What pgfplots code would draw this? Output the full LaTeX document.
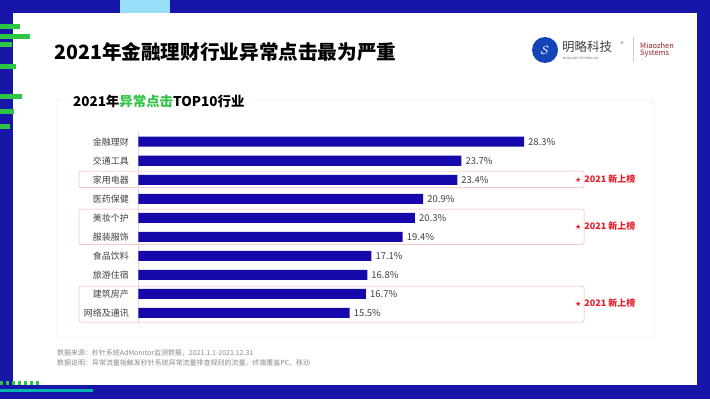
\documentclass[border=0pt]{standalone}
\usepackage{pgfplots}
\pgfplotsset{compat=1.18}
\usepackage{fontspec}
\setmainfont{Noto Sans CJK SC}
\newfontfamily\symfont{DejaVu Sans}
\definecolor{barblue}{RGB}{22,8,170}
\definecolor{frameblue}{RGB}{24,22,168}
\definecolor{grn}{RGB}{46,196,70}
\definecolor{newred}{RGB}{226,28,40}
\definecolor{txt}{RGB}{64,64,64}
\definecolor{mzred}{RGB}{150,30,40}
\begin{document}
\begin{tikzpicture}[x=1bp,y=1bp]
\useasboundingbox (0,0) rectangle (710,399);
\fill[frameblue] (0,0) rectangle (710,399);
\fill[white] (13,14) rectangle (697,386);
% decorations
\foreach \yy/\ww in {370/20,360/30,352/12,330/16,300/22,285/14,270/10}{\fill[grn] (0,\yy) rectangle (\ww,\yy+5);}
\foreach \xx in {0,6,...,40}{\fill[grn] (\xx,14) rectangle (\xx+3,18);}
\fill[teal!60!cyan] (0,7) rectangle (93,10);
\fill[cyan!40] (120,386) rectangle (170,399);
% title
\node[anchor=west, inner sep=0, font=\bfseries\fontsize{19.7}{22}\selectfont] at (54,347) {2021年金融理财行业异常点击最为严重};
% logo
\fill[frameblue!80!cyan] (545,349) circle (13);
\node[white, font=\bfseries\fontsize{13}{13}\selectfont] at (545,349) {$\mathcal{S}$};
\node[anchor=west, inner sep=0, text=black!75, font=\fontsize{12.5}{13}\selectfont] at (562,352) {明略科技};
\node[anchor=west, inner sep=0, text=black!60, font=\fontsize{3}{3}\selectfont] at (563,341) {MINGLAMP TECHNOLOGY};
\node[anchor=west, inner sep=0, text=black!60, font=\symfont\fontsize{4}{4}\selectfont] at (620,356) {®};
\draw[black!20] (633,337) -- (633,362);
\node[anchor=west, inner sep=0, text=mzred, font=\fontsize{7.5}{7}\selectfont, align=left] at (640,349) {Miaozhen\\Systems};
% panel
\draw[black!12, rounded corners=3] (57,62) rectangle (654,299);
\node[anchor=west, fill=white, inner xsep=5, font=\bfseries\fontsize{13.5}{14}\selectfont] at (68,298) {2021年\textcolor{grn}{异常点击}TOP10行业};
% new-entry boxes
\draw[newred!35, rounded corners=2, line width=0.5] (79,211.5) rectangle (584,228);
\draw[newred!35, rounded corners=2, line width=0.5] (79,154.5) rectangle (584,190);
\draw[newred!35, rounded corners=2, line width=0.5] (79,77) rectangle (584,113);
\foreach \yy in {219.5,172.5,95.5}{
  \node[anchor=west, inner sep=0, text=newred, font=\bfseries\fontsize{9}{10}\selectfont] at (575,\yy) {{\symfont\fontsize{7}{8}\selectfont ★}\hspace{3bp}2021 新上榜};
}
% footer
\node[anchor=west, inner sep=0, text=black!45, font=\fontsize{7}{8}\selectfont] at (57,46) {数据来源：秒针系统AdMonitor监测数据，2021.1.1-2021.12.31};
\node[anchor=west, inner sep=0, text=black!45, font=\fontsize{7}{8}\selectfont] at (57,36) {数据说明：异常流量指触发秒针系统异常流量排查规则的流量，终端覆盖PC、移动};
% chart
\begin{axis}[
  at={(138.3bp,76.5bp)}, anchor=south west,
  scale only axis, width=408.9bp, height=190.3bp,
  xmin=0, xmax=30, ymin=-0.5, ymax=9.5, y dir=reverse,
  xbar, bar width=10bp,
  axis x line=none, axis y line=left,
  y axis line style={-, draw=black!15},
  major tick length=0,
  ytick={0,...,9},
  yticklabels={金融理财,交通工具,家用电器,医药保健,美妆个护,服装服饰,食品饮料,旅游住宿,建筑房产,网络及通讯},
  yticklabel style={font=\fontsize{9}{10}\selectfont, text=txt, xshift=-6bp},
  nodes near coords={\pgfmathprintnumber[fixed,precision=1,fixed zerofill,assume math mode=true]{\pgfplotspointmeta}\%},
  nodes near coords style={anchor=west, font=\fontsize{9.5}{10}\selectfont, text=txt, inner sep=2bp, xshift=2bp},
  point meta=explicit,
  clip=false,
]
\addplot[fill=barblue, draw=none] coordinates {
(28.3,0) [28.3]
(23.7,1) [23.7]
(23.4,2) [23.4]
(20.9,3) [20.9]
(20.3,4) [20.3]
(19.4,5) [19.4]
(17.1,6) [17.1]
(16.8,7) [16.8]
(16.7,8) [16.7]
(15.5,9) [15.5]
};
\end{axis}
\end{tikzpicture}
\end{document}
